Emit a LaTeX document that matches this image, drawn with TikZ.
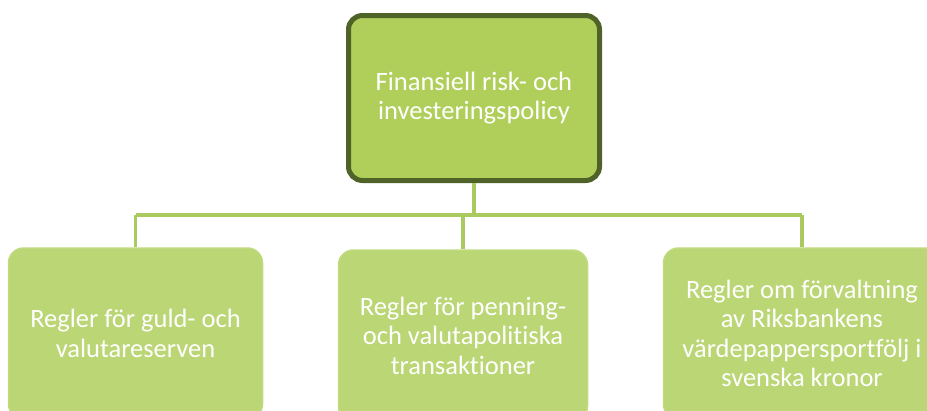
\documentclass[tikz,border=0pt]{standalone}
\usepackage{fontspec}
\setmainfont[Ligatures=CommonOff]{Carlito}
\definecolor{topfill}{RGB}{176,207,90}
\definecolor{topdraw}{RGB}{79,98,40}
\definecolor{subfill}{RGB}{187,214,116}
\definecolor{subdraw}{RGB}{192,218,128}
\definecolor{linkcol}{RGB}{170,202,96}
\tikzset{
  topbox/.style={draw=topdraw, line width=5pt, fill=topfill, rounded corners=14pt,
    minimum width=251pt, minimum height=165pt, align=center, text=white,
    font=\fontsize{26.5}{29}\selectfont, inner sep=0pt},
  subbox/.style={draw=subdraw, line width=1.5pt, fill=subfill, rounded corners=15pt,
    minimum height=171pt, align=center, text=white,
    font=\fontsize{26.5}{29.5}\selectfont, inner sep=0pt},
  link/.style={draw=linkcol, line width=3.2pt}
}
\begin{document}
\begin{tikzpicture}[x=1pt,y=1pt]
\useasboundingbox (0,0) rectangle (927,-410);
\clip (0,0) rectangle (927,-410);
\node[topbox] (top) at (474,-98) {Finansiell risk- och\\investeringspolicy};
\node[subbox, minimum width=254pt] (left) at (135.5,-333.5) {Regler för guld- och\\valutareserven};
\node[subbox, minimum width=249pt] (mid) at (463,-335.5) {Regler för penning-\\och valutapolitiska\\transaktioner};
\node[subbox, minimum width=277pt] (right) at (802,-333.5) {Regler om förvaltning\\av Riksbankens\\värdepappersportfölj i\\svenska kronor};
\coordinate (hl) at (135.5,-215);
\coordinate (hr) at (802,-215);
\draw[link] (hl) -- (hr);
\draw[link] (top.south) -- (top.south |- hl);
\draw[link] (left.north) -- (left.north |- hl);
\draw[link] (mid.north) -- (mid.north |- hl);
\draw[link] (right.north) -- (right.north |- hl);
\end{tikzpicture}
\end{document}
